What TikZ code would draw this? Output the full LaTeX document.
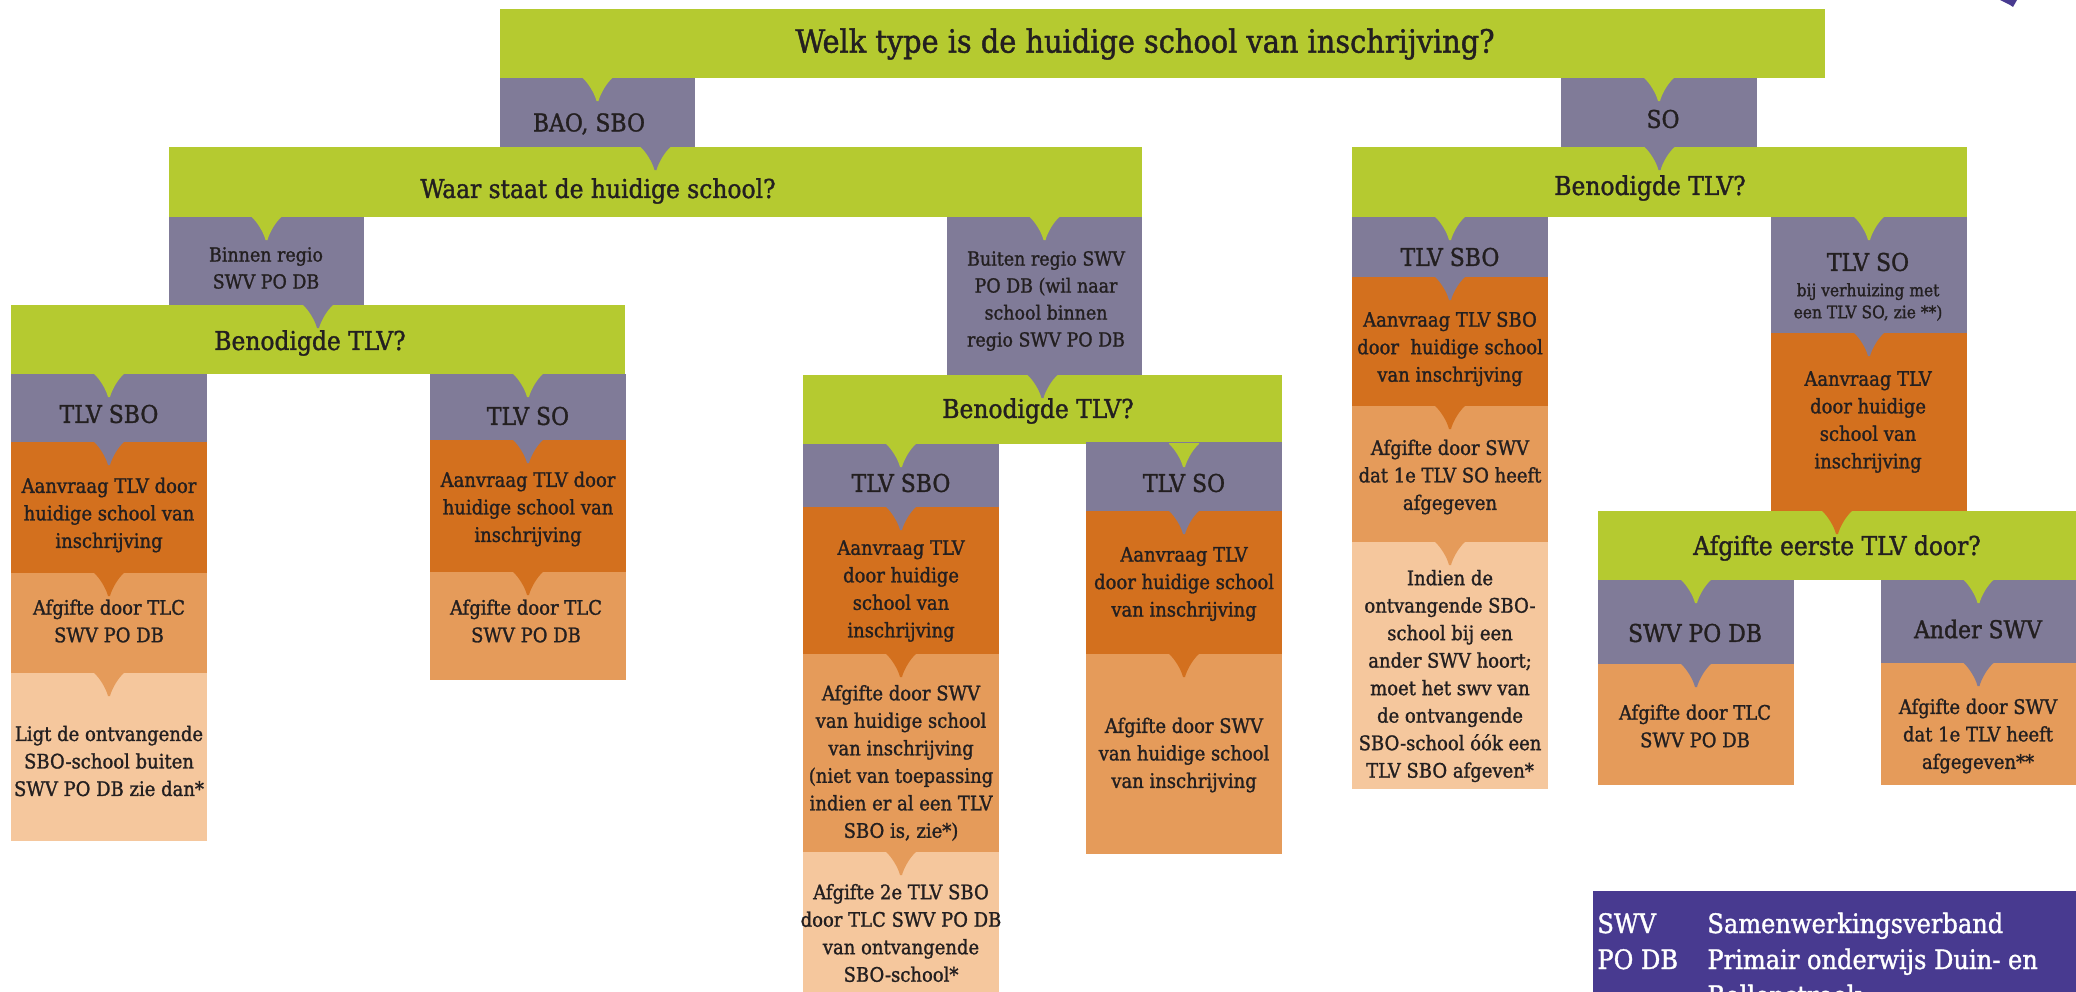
\documentclass[tikz,border=0pt]{standalone}
\usepackage{fontspec}
\setmainfont{DejaVu Serif Condensed}[FakeBold=1.3]
\usetikzlibrary{fit,calc}
\definecolor{grn}{HTML}{B5CA30}
\definecolor{pur}{HTML}{807B98}
\definecolor{dor}{HTML}{D3701E}
\definecolor{mor}{HTML}{E59B5A}
\definecolor{lor}{HTML}{F5C79D}
\definecolor{leg}{HTML}{483A90}
\definecolor{ink}{HTML}{231F20}
\tikzset{
  boxshape/.style={inner sep=0pt, outer sep=0pt, draw=none},
  txt/.style={align=center, inner sep=0pt, outer sep=0pt, text=ink},
  ttl/.style={txt, font=\fontsize{16}{19}\selectfont},
  hd/.style={txt, font=\fontsize{13}{15}\selectfont},
  lab/.style={txt, font=\fontsize{12.2}{15}\selectfont},
  body/.style={txt, font=\fontsize{10}{13.75}\selectfont},
  sm/.style={txt, font=\fontsize{9.7}{13.5}\selectfont},
  tiny/.style={txt, font=\fontsize{8.6}{11}\selectfont},
  legtxt/.style={inner sep=0pt, anchor=base west, text=white, font=\fontsize{13.4}{18}\selectfont},
}
\newcommand\bx[6]{\node[boxshape, fill=#2, fit={(#3,#4) (#5,#6)}] (#1) {};}
\newcommand\ptr[3]{\fill[#1] ($(#3.north |- #2.south)+(-15,-1)$) -- ($(#3.north |- #2.south)+(-15,0)$) .. controls +(5,4) and +(-2,-8) .. ($(#3.north |- #2.south)+(-1,23)$) .. controls +(0.5,0.8) and +(-0.5,0.8) .. ($(#3.north |- #2.south)+(1,23)$) .. controls +(2,-8) and +(-5,4) .. ($(#3.north |- #2.south)+(15,0)$) -- ($(#3.north |- #2.south)+(15,-1)$) -- cycle;}
\begin{document}
\begin{tikzpicture}[x=0.5pt,y=-0.5pt]
\useasboundingbox (0,0) rectangle (2076,991);
\clip (0,0) rectangle (2076,991);
% boxes
\bx{title}{grn}{500}{9}{1825}{78}
\bx{bao}{pur}{500}{78}{695}{147}
\bx{so}{pur}{1561}{78}{1757}{147}
\bx{waar}{grn}{169}{147}{1142}{217}
\bx{bentwo}{grn}{1352}{147}{1967}{217}
\bx{binnen}{pur}{169}{217}{364}{305}
\bx{buiten}{pur}{947}{217}{1142}{375}
\bx{benone}{grn}{11}{305}{625}{374}
\bx{ssbo}{pur}{1352}{217}{1548}{277}
\bx{sso}{pur}{1771}{217}{1967}{333}
\bx{lsbo}{pur}{11}{374}{207}{442}
\bx{lso}{pur}{430}{374}{626}{440}
\bx{benthree}{grn}{803}{375}{1282}{444}
\bx{ssboaan}{dor}{1352}{277}{1548}{406}
\bx{ssoaan}{dor}{1771}{333}{1967}{511}
\bx{lsboaan}{dor}{11}{442}{207}{573}
\bx{lsoaan}{dor}{430}{440}{626}{572}
\bx{msbo}{pur}{803}{444}{999}{507}
\bx{mso}{pur}{1086}{442}{1282}{511}
\bx{ssboafg}{mor}{1352}{406}{1548}{542}
\bx{afgone}{grn}{1598}{511}{2076}{580}
\bx{lsboafg}{mor}{11}{573}{207}{673}
\bx{lsoafg}{mor}{430}{572}{626}{680}
\bx{msboaan}{dor}{803}{507}{999}{654}
\bx{msoaan}{dor}{1086}{511}{1282}{654}
\bx{ssbolt}{lor}{1352}{542}{1548}{789}
\bx{swv}{pur}{1598}{580}{1794}{664}
\bx{ander}{pur}{1881}{580}{2076}{663}
\bx{lsbolt}{lor}{11}{673}{207}{841}
\bx{msboafg}{mor}{803}{654}{999}{852}
\bx{msoafg}{mor}{1086}{654}{1282}{854}
\bx{swvafg}{mor}{1598}{664}{1794}{785}
\bx{anderafg}{mor}{1881}{663}{2076}{785}
\bx{msbolt}{lor}{803}{852}{999}{995}
\bx{legend}{leg}{1593}{891}{2076}{995}
% pointers
\ptr{grn}{title}{bao}
\ptr{grn}{title}{so}
\ptr{pur}{bao}{waar}
\ptr{pur}{so}{bentwo}
\ptr{grn}{waar}{binnen}
\ptr{grn}{waar}{buiten}
\ptr{pur}{binnen}{benone}
\ptr{pur}{buiten}{benthree}
\ptr{grn}{bentwo}{ssbo}
\ptr{grn}{bentwo}{sso}
\ptr{grn}{benone}{lsbo}
\ptr{grn}{benone}{lso}
\ptr{grn}{benthree}{msbo}
\ptr{grn}{benthree}{mso}
\ptr{pur}{lsbo}{lsboaan}
\ptr{pur}{lso}{lsoaan}
\ptr{dor}{lsboaan}{lsboafg}
\ptr{dor}{lsoaan}{lsoafg}
\ptr{mor}{lsboafg}{lsbolt}
\ptr{pur}{msbo}{msboaan}
\ptr{pur}{mso}{msoaan}
\ptr{dor}{msboaan}{msboafg}
\ptr{dor}{msoaan}{msoafg}
\ptr{mor}{msboafg}{msbolt}
\ptr{pur}{ssbo}{ssboaan}
\ptr{dor}{ssboaan}{ssboafg}
\ptr{mor}{ssboafg}{ssbolt}
\ptr{pur}{sso}{ssoaan}
\ptr{dor}{ssoaan}{afgone}
\ptr{grn}{afgone}{swv}
\ptr{grn}{afgone}{ander}
\ptr{pur}{swv}{swvafg}
\ptr{pur}{ander}{anderafg}
% corner fragment
\fill[leg] (2000,0) -- (2017,0) -- (2013,7) -- (2010,5) -- cycle;
% texts
\node[ttl] (title-t) at (1145,44) {Welk type is de huidige school van inschrijving?};
\node[lab] (bao-t) at (589,124) {BAO, SBO};
\node[lab] (so-t) at (1663,119) {SO};
\node[hd] (waar-t) at (598,191) {Waar staat de huidige school?};
\node[hd] (bentwo-t) at (1650,188) {Benodigde TLV?};
\node[sm] (binnen-t) at (266,268) {Binnen regio\\SWV PO DB};
\node[sm] (buiten-t) at (1046,301) {Buiten regio SWV\\PO DB (wil naar\\school binnen\\regio SWV PO DB};
\node[hd] (benone-t) at (310,343) {Benodigde TLV?};
\node[lab] (ssbo-t) at (1450,257) {TLV SBO};
\node[lab] (sso-t) at (1868,262) {TLV SO};
\node[tiny] (sso-s) at (1868,302) {bij verhuizing met\\een TLV SO, zie **)};
\node[lab] (lsbo-t) at (109,414) {TLV SBO};
\node[lab] (lso-t) at (528,416) {TLV SO};
\node[hd] (benthree-t) at (1038,411) {Benodigde TLV?};
\node[body] (ssboaan-t) at (1450,349) {Aanvraag TLV SBO\\door\ \ huidige school\\van inschrijving};
\node[body] (ssoaan-t) at (1868,422) {Aanvraag TLV\\door huidige\\school van\\inschrijving};
\node[body] (lsboaan-t) at (109,515) {Aanvraag TLV door\\huidige school van\\inschrijving};
\node[body] (lsoaan-t) at (528,509) {Aanvraag TLV door\\huidige school van\\inschrijving};
\node[lab] (msbo-t) at (901,483) {TLV SBO};
\node[lab] (mso-t) at (1184,483) {TLV SO};
\node[body] (ssboafg-t) at (1450,477) {Afgifte door SWV\\dat 1e TLV SO heeft\\afgegeven};
\node[hd] (afgone-t) at (1837,548) {Afgifte eerste TLV door?};
\node[body] (lsboafg-t) at (109,621) {Afgifte door TLC\\SWV PO DB};
\node[body] (lsoafg-t) at (526,621) {Afgifte door TLC\\SWV PO DB};
\node[body] (msboaan-t) at (901,591) {Aanvraag TLV\\door huidige\\school van\\inschrijving};
\node[body] (msoaan-t) at (1184,584) {Aanvraag TLV\\door huidige school\\van inschrijving};
\node[body] (ssbolt-t) at (1450,676) {Indien de\\ontvangende SBO-\\school bij een\\ander SWV hoort;\\moet het swv van\\de ontvangende\\SBO-school óók een\\TLV SBO afgeven*};
\node[lab] (swv-t) at (1695,633) {SWV PO DB};
\node[lab] (ander-t) at (1978,629) {Ander SWV};
\node[body] (lsbolt-t) at (109,761) {Ligt de ontvangende\\SBO-school buiten\\SWV PO DB zie dan*};
\node[body] (msboafg-t) at (901,763) {Afgifte door SWV\\van huidige school\\van inschrijving\\(niet van toepassing\\indien er al een TLV\\SBO is, zie*)};
\node[body] (msoafg-t) at (1184,755) {Afgifte door SWV\\van huidige school\\van inschrijving};
\node[body] (swvafg-t) at (1695,726) {Afgifte door TLC\\SWV PO DB};
\node[body] (anderafg-t) at (1978,736) {Afgifte door SWV\\dat 1e TLV heeft\\afgegeven**};
\node[body] (msbolt-t) at (901,933) {Afgifte 2e TLV SBO\\door TLC SWV PO DB\\van ontvangende\\SBO-school*};
% legend
\node[legtxt] (lg1a) at (1597,933) {SWV};
\node[legtxt] (lg1b) at (1707,933) {Samenwerkingsverband};
\node[legtxt] (lg2a) at (1597,969) {PO DB};
\node[legtxt] (lg2b) at (1707,969) {Primair onderwijs Duin- en};
\node[legtxt] (lg3b) at (1707,1005) {Bollenstreek};
\end{tikzpicture}
\end{document}
